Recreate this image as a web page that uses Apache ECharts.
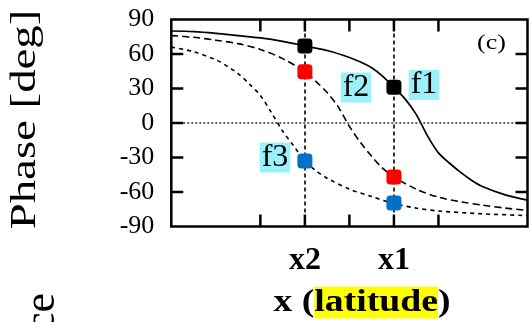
<!DOCTYPE html>
<html><head><meta charset="utf-8">
<script src="https://cdn.jsdelivr.net/npm/echarts/dist/echarts.min.js"></script>
<style>html,body{margin:0;padding:0;background:#fff}#c{width:530px;height:322px}</style>
</head><body><div id="c"></div>
<script>
// Curve samples
const f1X = [0, 0.5, 1, 1.5, 2, 2.5, 3, 3.5, 4, 4.25, 4.5, 4.75, 5, 5.25, 5.5, 5.75, 6, 6.25, 6.5, 6.75, 7, 7.5, 8];
const f1Y = [80, 79.5, 78, 76, 74, 71, 67, 63, 57, 53, 48, 40.5, 31, 21, 7.5, -11, -26, -35, -43, -50, -55.5, -62.5, -67];
const f2X = [0, 0.5, 1, 1.5, 2, 2.5, 3, 3.25, 3.5, 3.75, 4, 4.25, 4.5, 4.75, 5, 5.5, 6, 6.5, 7, 7.5, 8];
const f2Y = [76, 74.5, 72, 69, 64, 56, 44.5, 36, 26.5, 14, -3, -17, -29, -39.5, -47, -57.5, -64.5, -68.5, -71.5, -74, -76];
const f3X = [0, 0.5, 1, 1.25, 1.5, 1.75, 2, 2.25, 2.5, 2.75, 3, 3.25, 3.5, 4, 4.5, 5, 5.5, 6, 7, 8];
const f3Y = [66, 62, 55, 49.5, 43, 34, 24, 9, -7, -20, -33, -41.5, -48, -57.5, -64, -70, -74, -76.5, -79, -80.5];
// Marked points at x2 and x1
const markX = [3, 5];
const f1Mark = [67, 31];
const f2Mark = [44.5, -47];
const f3Mark = [-33, -69.5];
// Axis ranges, ticks and labels
const xMin = 0, xMax = 8, yMin = -90, yMax = 90, yStep = 30;
const xTickValues = [2, 3, 4, 5, 6];
const yTickValues = [60, 30, 0, -30, -60];
const xLabelValues = [3, 5];
const xLabelTexts = ['x2', 'x1'];
const guideX = [3, 5];
const guideY = [0];

const pairs = (xs, ys) => xs.map((x, i) => [x, ys[i]]);
const SERIF = '"Liberation Serif", "Times New Roman", Times, serif';

const chart = echarts.init(document.getElementById('c'));
const hideLine = {show: false, onZero: false};

const textEls = [
  {type: 'text', x: 26, y: 119.5, rotation: Math.PI / 2, scaleX: 1.3,
   style: {text: 'Phase [deg]', fontFamily: SERIF, fontSize: 36, fill: '#000', align: 'center', verticalAlign: 'middle'}},
  {type: 'text', x: 42, y: 293, rotation: Math.PI / 2,
   style: {text: 'ce', fontFamily: SERIF, fontSize: 44, fill: '#000', align: 'right', verticalAlign: 'middle'}},
  {type: 'text', x: 362, y: 302.5, scaleX: 1.18,
   style: {text: 'x ({hl|latitude})', fontFamily: SERIF, fontWeight: 'bold', fontSize: 32, fill: '#000',
     align: 'center', verticalAlign: 'middle',
     rich: {hl: {backgroundColor: '#FFFF00', lineHeight: 40, fontFamily: SERIF, fontWeight: 'bold', fontSize: 32, fill: '#000'}}}},
  {type: 'text', x: 491.5, y: 44, scaleX: 1.3,
   style: {text: '(c)', fontFamily: SERIF, fontSize: 20, fill: '#000', align: 'center', verticalAlign: 'middle'}},
  {type: 'text', x: 424, y: 85, z: 10,
   style: {text: 'f1', fontFamily: SERIF, fontSize: 32, fill: '#000', backgroundColor: '#9BF0FA', padding: [0, 2], lineHeight: 30, align: 'center', verticalAlign: 'middle'}},
  {type: 'text', x: 356, y: 87.5, z: 10,
   style: {text: 'f2', fontFamily: SERIF, fontSize: 32, fill: '#000', backgroundColor: '#9BF0FA', padding: [0, 2], lineHeight: 30, align: 'center', verticalAlign: 'middle'}},
  {type: 'text', x: 275, y: 157.5, z: 10,
   style: {text: 'f3', fontFamily: SERIF, fontSize: 32, fill: '#000', backgroundColor: '#9BF0FA', padding: [0, 2], lineHeight: 30, align: 'center', verticalAlign: 'middle'}}
];

chart.setOption({
  animation: false,
  grid: {left: 171.3, right: 2.5, top: 19.5, bottom: 95.5, show: true, backgroundColor: 'transparent', borderColor: '#000', borderWidth: 2.5},
  xAxis: [
    {type: 'value', min: xMin, max: xMax, interval: 1, position: 'bottom',
     axisLine: hideLine, splitLine: {show: false}, axisTick: {show: false},
     axisLabel: {customValues: xLabelValues, formatter: v => xLabelTexts[xLabelValues.indexOf(v)] || '',
       fontFamily: SERIF, fontWeight: 'bold', fontSize: 32, color: '#000', margin: 18}}
  ],
  yAxis: [
    {type: 'value', min: yMin, max: yMax, interval: yStep, position: 'left',
     axisLine: hideLine, splitLine: {show: false}, axisTick: {show: false},
     axisLabel: {fontFamily: SERIF, fontSize: 26, color: '#000', margin: 17}}
  ],
  series: [
    {type: 'line', data: pairs(f1X, f1Y), smooth: 0.3, showSymbol: false, symbol: 'none',
     lineStyle: {color: '#000', width: 1.7}, z: 3,
     markLine: {symbol: 'none', silent: true, label: {show: false}, animation: false,
       data: guideX.map(v => ({xAxis: v, lineStyle: {type: [4, 3], color: '#000', width: 1.6}}))
         .concat(guideY.map(v => ({yAxis: v, lineStyle: {type: [2, 2], color: '#333', width: 1.5}})))}},
    {type: 'line', data: pairs(f2X, f2Y), smooth: 0.3, showSymbol: false, symbol: 'none',
     lineStyle: {color: '#000', width: 1.6, type: [7, 4]}, z: 3},
    {type: 'line', data: pairs(f3X, f3Y), smooth: 0.3, showSymbol: false, symbol: 'none',
     lineStyle: {color: '#000', width: 1.6, type: [4, 4]}, z: 3},
    {type: 'scatter', data: pairs(markX, f1Mark), symbol: 'roundRect', symbolSize: 15, itemStyle: {color: '#000', opacity: 1}, z: 6},
    {type: 'scatter', data: pairs(markX, f2Mark), symbol: 'roundRect', symbolSize: 15, itemStyle: {color: '#FF0000', opacity: 1}, z: 6},
    {type: 'scatter', data: pairs(markX, f3Mark), symbol: 'roundRect', symbolSize: 15, itemStyle: {color: '#0070C8', opacity: 1}, z: 6}
  ],
  graphic: textEls
});

// Inward frame ticks, positioned through the chart's own scales
const TICK = 12, TW = 2.5;
const px = p => chart.convertToPixel({gridIndex: 0}, p);
const tickEls = [];
xTickValues.forEach(v => {
  const b = px([v, yMin]), t = px([v, yMax]);
  tickEls.push({type: 'rect', z: 20, silent: true, shape: {x: b[0] - TW / 2, y: b[1] - TICK, width: TW, height: TICK}, style: {fill: '#000'}});
  tickEls.push({type: 'rect', z: 20, silent: true, shape: {x: t[0] - TW / 2, y: t[1], width: TW, height: TICK}, style: {fill: '#000'}});
});
yTickValues.forEach(v => {
  const l = px([xMin, v]), r = px([xMax, v]);
  tickEls.push({type: 'rect', z: 20, silent: true, shape: {x: l[0], y: l[1] - TW / 2, width: TICK, height: TW}, style: {fill: '#000'}});
  tickEls.push({type: 'rect', z: 20, silent: true, shape: {x: r[0] - TICK, y: r[1] - TW / 2, width: TICK, height: TW}, style: {fill: '#000'}});
});
chart.setOption({graphic: textEls.concat(tickEls)});
</script></body></html>
